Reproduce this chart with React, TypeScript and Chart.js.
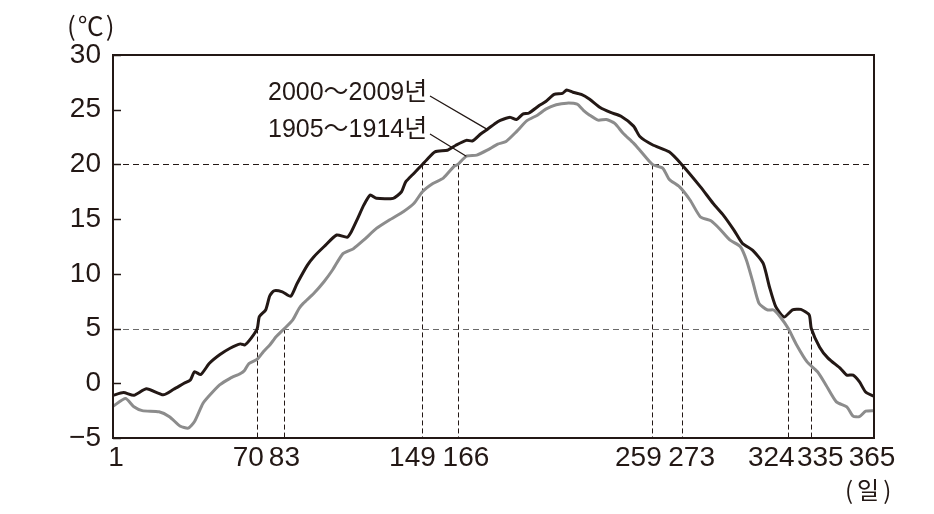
import React, { useEffect, useRef } from "react";
import { Chart, registerables } from "chart.js";

Chart.register(...registerables);

// 2000~2009년 (black)
const days2000 = [1, 6, 11, 17, 25, 30, 35, 38, 40, 43, 47, 52, 57, 62, 64, 67, 70, 71, 74, 76, 78, 82, 86, 89, 94, 97, 102, 108, 113, 115, 118, 121, 124, 127, 135, 139, 141, 145, 149, 151, 155, 161, 165, 170, 173, 177, 180, 185, 188, 191, 194, 197, 200, 205, 208, 212, 216, 218, 221, 225, 229, 234, 239, 244, 250, 253, 259, 267, 273, 282, 288, 293, 298, 302, 307, 312, 315, 318, 322, 326, 330, 334, 335, 339, 343, 349, 352, 355, 358, 361, 365];
const temps2000 = [-1.1, -0.85, -1.1, -0.5, -1.05, -0.55, 0.0, 0.3, 1.05, 0.8, 1.8, 2.6, 3.2, 3.6, 3.5, 4.1, 5.0, 6.1, 6.7, 8.0, 8.45, 8.35, 7.95, 9.1, 10.8, 11.55, 12.5, 13.55, 13.35, 13.85, 15.05, 16.3, 17.2, 16.9, 16.9, 17.5, 18.4, 19.2, 20.0, 20.4, 21.15, 21.3, 21.75, 22.2, 22.15, 22.8, 23.2, 23.9, 24.15, 24.3, 24.1, 24.6, 24.7, 25.4, 25.75, 26.4, 26.5, 26.8, 26.6, 26.4, 25.95, 25.2, 24.75, 24.4, 23.5, 22.55, 21.8, 21.15, 20.0, 17.95, 16.45, 15.35, 14.0, 12.8, 12.15, 10.95, 8.8, 7.0, 6.05, 6.7, 6.75, 6.25, 5.0, 3.3, 2.3, 1.35, 0.75, 0.75, 0.15, -0.8, -1.2];

// 1905~1914년 (gray)
const days1905 = [1, 7, 11, 15, 23, 28, 33, 37, 40, 44, 47, 52, 57, 62, 64, 66, 70, 73, 76, 79, 83, 87, 90, 92, 97, 102, 106, 111, 116, 121, 127, 133, 140, 145, 149, 154, 159, 164, 166, 170, 175, 180, 185, 189, 194, 199, 204, 208, 213, 218, 223, 226, 229, 233, 237, 241, 245, 250, 253, 259, 264, 267, 272, 277, 282, 287, 291, 296, 301, 304, 307, 310, 314, 317, 320, 324, 328, 333, 338, 342, 347, 352, 355, 358, 361, 365];
const temps1905 = [-2.1, -1.4, -2.15, -2.5, -2.6, -3.05, -3.9, -4.1, -3.5, -1.85, -1.15, -0.15, 0.45, 0.9, 1.2, 1.8, 2.2, 2.9, 3.5, 4.25, 5.0, 5.8, 6.84, 7.3, 8.2, 9.3, 10.35, 11.85, 12.3, 13.1, 14.15, 14.9, 15.7, 16.45, 17.5, 18.25, 18.75, 19.8, 20.0, 20.75, 20.85, 21.3, 21.85, 22.1, 23.0, 24.0, 24.5, 25.05, 25.45, 25.6, 25.5, 24.95, 24.5, 24.05, 24.1, 23.75, 22.85, 21.95, 21.3, 20.0, 19.65, 18.65, 17.95, 16.75, 15.2, 14.85, 14.15, 13.1, 12.5, 11.25, 9.3, 7.3, 6.7, 6.7, 6.1, 5.0, 3.5, 1.95, 1.05, -0.15, -1.7, -2.15, -3.0, -3.05, -2.55, -2.5];

const xTickDays = [1, 70, 83, 149, 166, 259, 273, 324, 335, 365];
const crossDaysAt20 = [149, 166, 259, 273];
const crossDaysAt5 = [70, 83, 324, 335];
const thresholdTemps = [20, 5];
const label2000 = "2000～2009년";
const label1905 = "1905～1914년";
const yUnit = "(℃)";
const xUnit = "(일)";

// style-only: horizontal nudges of x labels (px)
const xLabelShift: Record<number, number> = { 1: 3, 70: -9, 83: 0, 149: -10, 166: 8, 259: -14, 273: 10, 324: -17, 335: 9, 365: -2 };

const INK = "#231815";
const GRAY = "#8c8c8c";
const NUM_FONT = "'Liberation Sans Narrow', 'Liberation Sans', 'Noto Sans CJK KR', sans-serif";

const overlay = {
  id: "overlay",
  beforeDatasetsDraw(chart: any) {
    const { ctx, chartArea, scales } = chart;
    const { left, right, bottom } = chartArea;
    const x = scales.x, y = scales.y;
    ctx.save();
    thresholdTemps.forEach((t, i) => {
      const py = Math.round(y.getPixelForValue(t)) + 0.5;
      ctx.beginPath();
      ctx.setLineDash([6, 4]);
      ctx.lineWidth = 1.2;
      ctx.strokeStyle = i === 0 ? INK : "#6a6a6a";
      ctx.moveTo(left, py);
      ctx.lineTo(right, py);
      ctx.stroke();
    });
    const drawV = (d: number, t: number) => {
      const px = Math.round(x.getPixelForValue(d)) + 0.5;
      ctx.beginPath();
      ctx.setLineDash([5, 3]);
      ctx.lineWidth = 1;
      ctx.strokeStyle = INK;
      ctx.moveTo(px, y.getPixelForValue(t));
      ctx.lineTo(px, bottom);
      ctx.stroke();
    };
    crossDaysAt20.forEach((d) => drawV(d, 20));
    crossDaysAt5.forEach((d) => drawV(d, 5));
    ctx.restore();
  },
  afterDraw(chart: any) {
    const { ctx, chartArea, scales } = chart;
    const { left, right, top, bottom } = chartArea;
    const x = scales.x, y = scales.y;
    ctx.save();
    ctx.setLineDash([]);
    ctx.strokeStyle = INK;
    ctx.lineWidth = 2;
    ctx.strokeRect(left, top, right - left, bottom - top);
    ctx.lineWidth = 1.5;
    for (let v = -5; v <= 30; v += 5) {
      const py = Math.round(y.getPixelForValue(v)) + 0.5;
      ctx.beginPath();
      ctx.moveTo(left, py);
      ctx.lineTo(left + 8, py);
      ctx.stroke();
    }
    ctx.fillStyle = INK;
    ctx.font = `28px ${NUM_FONT}`;
    ctx.textAlign = "center";
    ctx.textBaseline = "middle";
    xTickDays.forEach((d) => {
      ctx.fillText(String(d), x.getPixelForValue(d) + (xLabelShift[d] || 0), bottom + 20);
    });
    ctx.textAlign = "left";
    ctx.font = "26px 'Noto Sans CJK KR', sans-serif";
    (ctx as any).letterSpacing = "2px";
    ctx.fillText(yUnit, 67, 26);
    ctx.font = "24px 'Noto Sans CJK KR', sans-serif";
    (ctx as any).letterSpacing = "4px";
    ctx.fillText(xUnit, 845, 490);
    (ctx as any).letterSpacing = "0px";
    ctx.font = `25px ${NUM_FONT}`;
    ctx.fillText(label2000, 268, 93);
    ctx.fillText(label1905, 268, 130);
    ctx.lineWidth = 1.3;
    ctx.beginPath();
    ctx.moveTo(430, 96);
    ctx.lineTo(x.getPixelForValue(180), y.getPixelForValue(23.2));
    ctx.moveTo(430, 134);
    ctx.lineTo(x.getPixelForValue(170), y.getPixelForValue(20.75));
    ctx.stroke();
    ctx.restore();
  },
};

export default function App() {
  const ref = useRef<HTMLCanvasElement>(null);
  useEffect(() => {
    if (!ref.current) return;
    const chart = new Chart(ref.current, {
      type: "line",
      data: {
        datasets: [
          {
            label: label1905,
            data: days1905.map((d, i) => ({ x: d, y: temps1905[i] })),
            borderColor: GRAY,
            borderWidth: 3,
            pointRadius: 0,
            tension: 0.2,
          },
          {
            label: label2000,
            data: days2000.map((d, i) => ({ x: d, y: temps2000[i] })),
            borderColor: INK,
            borderWidth: 3,
            pointRadius: 0,
            tension: 0.2,
          },
        ],
      },
      options: {
        animation: false,
        responsive: false,
        layout: { padding: { left: 0, top: 55, right: 60, bottom: 0 } },
        plugins: { legend: { display: false }, tooltip: { enabled: false } },
        scales: {
          x: {
            type: "linear",
            min: 1,
            max: 365,
            grid: { display: false },
            border: { display: false },
            ticks: { display: false },
            afterBuildTicks: (s: any) => { s.ticks = xTickDays.map((v) => ({ value: v })); },
            afterFit: (s: any) => { s.height = 76; },
          },
          y: {
            min: -5,
            max: 30,
            grid: { display: false, drawTicks: false },
            border: { display: false },
            ticks: {
              stepSize: 5,
              padding: 12,
              color: INK,
              font: { family: NUM_FONT, size: 28 },
              callback: (v: any) => (Number(v) < 0 ? "−" + Math.abs(Number(v)) : String(v)),
            },
            afterFit: (s: any) => { s.width = 113; },
          },
        },
      },
      plugins: [overlay],
    });
    return () => chart.destroy();
  }, []);
  return (
    <div style={{ position: "absolute", left: 0, top: 0, width: 934, height: 514, background: "#fff" }}>
      <canvas ref={ref} width={934} height={514} style={{ display: "block" }} />
    </div>
  );
}
